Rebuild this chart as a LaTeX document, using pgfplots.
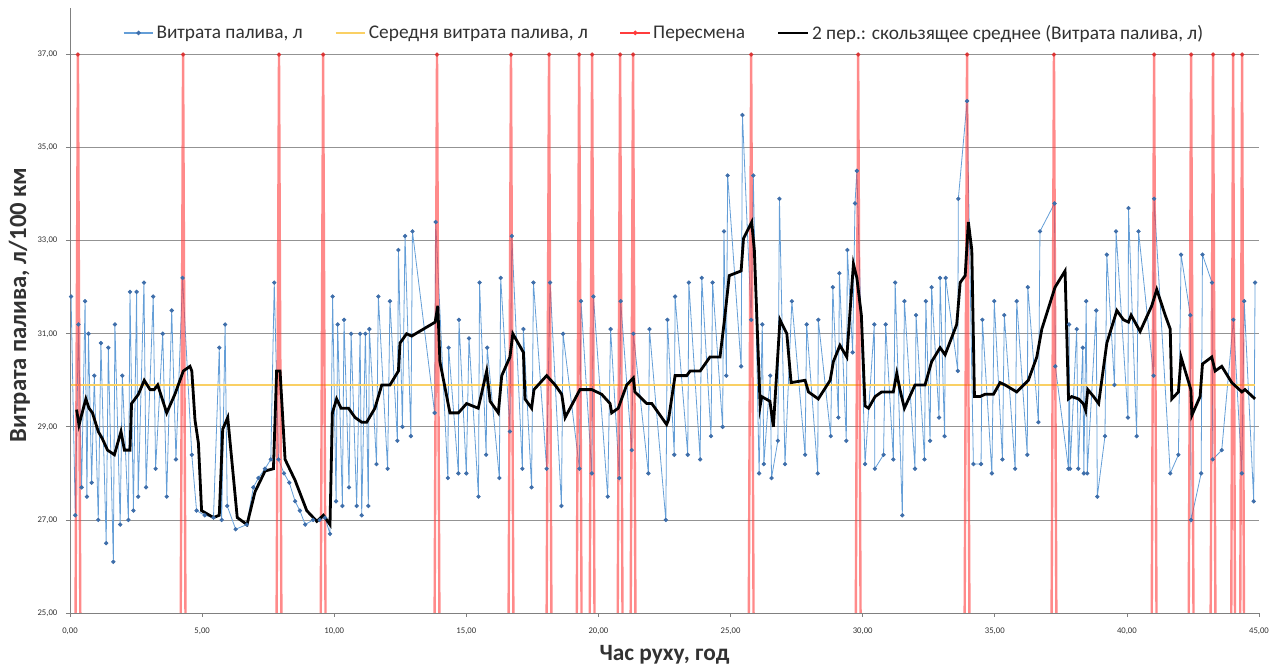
\documentclass[border=0pt]{standalone}
\usepackage{fontspec}
\setmainfont{Carlito}
\usepackage{pgfplots}
\pgfplotsset{compat=1.18}
\usetikzlibrary{calc}

\definecolor{fuelblue}{RGB}{100,158,215}
\definecolor{fuelmark}{RGB}{62,110,170}
\definecolor{avgyellow}{RGB}{250,208,100}
\definecolor{shiftred}{RGB}{255,60,60}
\definecolor{txt}{RGB}{50,50,50}

% fuel consumption, l/100 km
\pgfplotstableread{
x y
0.04 31.8
0.20 27.1
0.32 31.2
0.44 27.7
0.57 31.7
0.64 27.5
0.70 31.0
0.82 27.8
0.92 30.1
1.07 27.0
1.17 30.8
1.37 26.5
1.45 30.7
1.64 26.1
1.70 31.2
1.90 26.9
1.98 30.1
2.21 27.0
2.27 31.9
2.40 27.2
2.52 31.9
2.58 27.5
2.80 32.1
2.88 27.7
3.15 31.8
3.24 28.1
3.51 31.0
3.66 27.5
3.85 31.5
4.01 28.3
4.26 32.2
4.61 28.4
4.79 27.2
5.10 27.1
5.43 27.05
5.65 30.7
5.74 27.0
5.87 31.2
5.95 27.3
6.27 26.8
6.69 26.9
6.94 27.7
7.13 27.9
7.38 28.1
7.60 28.3
7.73 32.1
7.89 28.3
8.10 28.0
8.30 27.8
8.52 27.4
8.70 27.2
8.90 26.9
9.20 27.0
9.45 27.0
9.65 27.05
9.84 26.7
9.94 31.8
10.07 27.4
10.13 31.2
10.31 27.3
10.37 31.3
10.56 27.7
10.64 31.0
10.85 27.3
10.98 31.0
11.04 27.1
11.18 31.0
11.29 27.3
11.33 31.1
11.60 28.2
11.67 31.8
12.02 28.1
12.11 31.7
12.39 28.7
12.43 32.8
12.58 29.0
12.68 33.1
12.90 28.8
12.96 33.2
13.80 29.3
13.84 33.4
14.30 27.9
14.33 30.7
14.70 28.0
14.72 31.3
15.00 28.0
15.10 30.9
15.46 27.5
15.50 32.1
15.75 28.4
15.79 30.7
16.25 27.9
16.30 32.2
16.65 28.9
16.72 33.1
17.12 28.1
17.16 31.1
17.47 27.7
17.54 32.1
18.04 28.1
18.17 32.1
18.60 27.3
18.66 31.0
19.28 28.1
19.34 31.7
19.75 28.0
19.81 31.8
20.35 27.5
20.46 31.1
20.79 27.9
20.84 31.7
21.26 28.5
21.32 31.0
21.89 28.0
21.93 31.1
22.55 27.0
22.61 31.3
22.87 28.4
22.90 31.8
23.38 28.4
23.42 32.1
23.85 28.3
23.91 32.2
24.26 28.8
24.32 32.1
24.70 29.0
24.75 33.2
24.84 30.1
24.89 34.4
25.40 30.3
25.45 35.7
25.78 31.3
25.86 34.4
26.08 28.0
26.20 31.2
26.26 28.2
26.50 30.1
26.55 27.9
26.79 28.7
26.85 33.9
27.06 28.2
27.32 31.7
27.82 28.4
27.88 31.2
28.30 28.0
28.32 31.3
28.79 28.8
28.87 32.0
29.08 29.2
29.12 32.3
29.38 28.7
29.42 32.8
29.62 30.6
29.71 33.8
29.78 34.5
30.09 28.2
30.44 31.2
30.46 28.1
30.79 28.4
30.87 31.2
31.16 28.3
31.23 32.1
31.50 27.1
31.58 31.7
31.98 28.1
32.02 31.4
32.34 28.3
32.39 31.7
32.55 28.7
32.61 32.0
32.89 29.2
32.93 32.2
33.10 28.8
33.14 32.2
33.60 30.2
33.62 33.9
33.95 36.0
34.19 28.2
34.48 28.2
34.53 31.3
34.89 28.0
34.98 31.7
35.29 28.3
35.36 31.4
35.77 28.1
35.83 31.7
36.23 28.4
36.25 32.0
36.65 29.1
36.71 33.2
37.26 33.8
37.29 30.3
37.79 28.1
37.81 31.2
37.85 28.1
38.10 31.1
38.16 28.1
38.33 30.7
38.37 28.0
38.46 31.7
38.50 28.0
38.84 31.5
38.88 27.5
39.17 28.8
39.24 32.7
39.53 29.9
39.59 33.2
40.04 29.2
40.06 33.7
40.37 28.8
40.44 33.2
41.01 30.1
41.03 33.9
41.64 28.0
41.95 28.4
42.05 32.7
42.40 31.4
42.43 27.0
42.81 28.0
42.86 32.7
43.22 32.1
43.25 28.3
43.59 28.5
44.03 31.3
44.35 28.0
44.44 31.7
44.80 27.4
44.85 32.1
}\fuel

% 2-period moving average
\pgfplotstableread{
x y
0.25 29.37
0.34 29.04
0.60 29.6
0.72 29.4
0.85 29.3
1.07 28.9
1.22 28.75
1.42 28.5
1.68 28.4
1.93 28.9
2.06 28.5
2.27 28.5
2.33 29.5
2.59 29.7
2.81 30.0
3.03 29.8
3.19 29.8
3.32 29.9
3.66 29.3
3.97 29.7
4.29 30.2
4.54 30.3
4.61 30.2
4.73 29.15
4.86 28.65
4.98 27.2
5.43 27.05
5.65 27.1
5.78 28.95
5.97 29.2
6.33 27.05
6.70 26.9
7.00 27.6
7.38 28.05
7.70 28.1
7.82 30.2
7.95 30.2
8.14 28.3
8.52 27.85
8.96 27.2
9.34 26.97
9.59 27.1
9.84 26.9
9.93 29.3
10.09 29.6
10.26 29.4
10.54 29.4
10.79 29.2
11.04 29.1
11.23 29.1
11.54 29.4
11.80 29.9
12.11 29.9
12.43 30.2
12.49 30.8
12.74 31.0
12.93 30.95
13.82 31.25
13.92 31.6
14.00 30.4
14.38 29.3
14.70 29.3
15.01 29.5
15.45 29.4
15.77 30.2
15.90 29.55
16.21 29.3
16.34 30.1
16.65 30.5
16.76 31.0
17.16 30.6
17.22 29.6
17.47 29.4
17.56 29.8
18.04 30.1
18.36 29.9
18.61 29.7
18.74 29.2
19.30 29.8
19.75 29.8
20.12 29.7
20.44 29.5
20.50 29.3
20.75 29.4
21.07 29.9
21.32 30.05
21.38 29.75
21.83 29.5
22.02 29.5
22.27 29.3
22.58 29.05
22.65 29.15
22.90 30.1
23.34 30.1
23.47 30.2
23.85 30.2
24.22 30.5
24.60 30.5
24.77 31.3
24.95 32.25
25.40 32.35
25.49 33.05
25.80 33.4
25.90 32.8
26.12 29.45
26.18 29.65
26.49 29.55
26.62 29.0
26.87 31.3
27.13 31.0
27.29 29.95
27.82 30.0
27.95 29.75
28.32 29.6
28.77 30.0
28.89 30.4
29.14 30.75
29.40 30.5
29.65 32.5
29.78 32.2
29.95 31.4
30.09 29.45
30.22 29.4
30.47 29.65
30.72 29.75
31.16 29.75
31.29 30.15
31.41 29.8
31.58 29.4
31.98 29.9
32.36 29.9
32.61 30.4
32.93 30.7
33.12 30.55
33.56 31.2
33.69 32.1
33.88 32.25
34.00 33.4
34.13 32.8
34.23 29.65
34.44 29.65
34.63 29.7
34.95 29.7
35.20 29.95
35.39 29.9
35.83 29.75
36.27 30.0
36.59 30.5
36.78 31.1
37.28 32.0
37.66 32.35
37.79 29.6
37.91 29.65
38.17 29.6
38.35 29.5
38.44 29.35
38.52 29.8
38.74 29.65
38.93 29.5
39.24 30.8
39.62 31.5
39.87 31.3
40.06 31.25
40.16 31.4
40.50 31.05
40.94 31.6
41.13 31.95
41.45 31.4
41.64 31.1
41.70 29.6
41.95 29.75
42.05 30.5
42.42 29.8
42.46 29.25
42.77 29.65
42.86 30.35
43.21 30.5
43.34 30.2
43.59 30.3
43.97 29.95
44.35 29.75
44.47 29.8
44.66 29.7
44.85 29.6
}\movavg

% shift changes: spikes from 25 to 37
\pgfplotstableread{
x y
0.21 25
0.30 37
0.39 25
0.30 nan
4.19 25
4.28 37
4.37 25
4.28 nan
7.82 25
7.91 37
8.00 25
7.91 nan
9.49 25
9.58 37
9.67 25
9.58 nan
13.80 25
13.89 37
13.98 25
13.89 nan
16.60 25
16.69 37
16.78 25
16.69 nan
18.04 25
18.13 37
18.22 25
18.13 nan
19.18 25
19.27 37
19.36 25
19.27 nan
19.67 25
19.76 37
19.85 25
19.76 nan
20.73 25
20.82 37
20.91 25
20.82 nan
21.22 25
21.31 37
21.40 25
21.31 nan
25.69 25
25.78 37
25.87 25
25.78 nan
29.74 25
29.83 37
29.92 25
29.83 nan
33.86 25
33.95 37
34.04 25
33.95 nan
37.15 25
37.24 37
37.33 25
37.24 nan
40.94 25
41.03 37
41.12 25
41.03 nan
42.34 25
42.43 37
42.52 25
42.43 nan
43.17 25
43.26 37
43.35 25
43.26 nan
43.95 25
44.02 37
44.09 25
44.02 nan
44.29 25
44.36 37
44.43 25
}\shifts

\pgfplotstableread{
x y
0.30 37
4.28 37
7.91 37
9.58 37
13.89 37
16.69 37
18.13 37
19.27 37
19.76 37
20.82 37
21.31 37
25.78 37
29.83 37
33.95 37
37.24 37
41.03 37
42.43 37
43.26 37
44.02 37
44.36 37
}\shifttops

\begin{document}
\begin{tikzpicture}
\begin{axis}[
  scale only axis,
  width=891.75pt, height=453.75pt,
  xmin=0, xmax=45, ymin=25, ymax=38,
  xtick={0,5,...,45}, ytick={25,27,...,37},
  axis x line*=bottom, axis y line*=left,
  axis line style={gray, line width=0.6pt, -},
  tick align=outside, major tick length=3pt,
  tick style={gray, line width=0.6pt},
  ymajorgrids, grid style={gray!85, line width=0.6pt},
  unbounded coords=jump,
  /pgf/number format/.cd, fixed, fixed zerofill, precision=2, use comma, assume math mode=true,
  /pgfplots/.cd,
  tick label style={font=\fontsize{6.5}{7}\selectfont, text=txt},
  xticklabel style={yshift=-5pt},
  yticklabel style={xshift=-3pt},
  xlabel={Час руху, год},
  ylabel={Витрата палива, л/100 км},
  xlabel style={at={(axis description cs:0.5,-0.0694)}, anchor=center,
    font=\bfseries\fontsize{17.5}{19}\selectfont, text=txt},
  ylabel style={at={(axis description cs:-0.0425,0.509)}, anchor=center,
    font=\bfseries\fontsize{18.5}{20}\selectfont, text=txt},
  legend style={at={(0.5,0.9587)}, anchor=center, draw=none, fill=none,
    legend columns=4, font=\fontsize{14.5}{16}\selectfont, text=txt,
    /tikz/every even column/.append style={column sep=22pt}},
  legend image code/.code={\draw[mark repeat=2,mark phase=2,#1]
    plot coordinates {(0cm,0cm) (0.39cm,0cm) (0.78cm,0cm)};},
]
\coordinate (sw) at (rel axis cs:0,0);
\coordinate (ne) at (rel axis cs:1,1);

\addplot[forget plot, fuelblue, line width=0.6pt, mark=*, mark size=1.3pt,
  mark options={fill=fuelmark, draw=fuelmark}] table {\fuel};
\addplot[forget plot, avgyellow, line width=2pt] coordinates {(0.04,29.9) (44.85,29.9)};
\addplot[forget plot, shiftred, line width=1.8pt, opacity=0.6] table {\shifts};
\addplot[forget plot, only marks, mark=*, mark size=1.4pt, shiftred!85!black] table {\shifttops};
\addplot[forget plot, black, line width=2.1pt] table {\movavg};

\addlegendimage{fuelblue, line width=0.8pt, mark=*, mark size=1.3pt, mark options={fill=fuelmark, draw=fuelmark}}
\addlegendimage{avgyellow, line width=1.5pt}
\addlegendimage{shiftred, line width=0.8pt, mark=*, mark size=1.3pt}
\addlegendimage{black, line width=2pt}
\legend{{Витрата палива, л}, {Середня витрата палива, л}, {Пересмена}, {2 пер.: скользящее среднее (Витрата палива, л)}}
\end{axis}
\pgfresetboundingbox
\path ($(sw)+(-52.5pt,-42pt)$) rectangle ($(ne)+(15pt,6pt)$);
\end{tikzpicture}
\end{document}
